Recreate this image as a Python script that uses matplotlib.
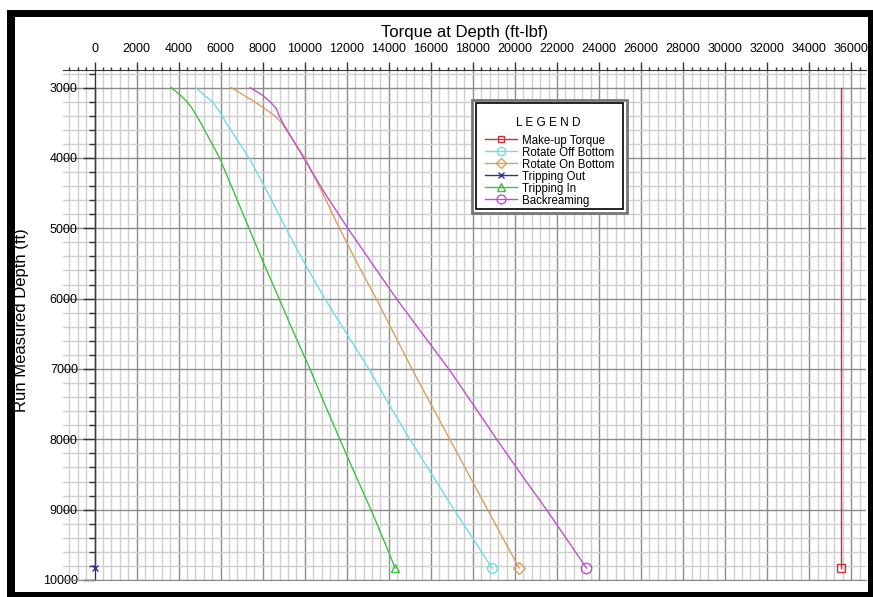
import matplotlib
matplotlib.use('Agg')
import matplotlib.pyplot as plt
from matplotlib.lines import Line2D
from matplotlib.patches import Rectangle
from matplotlib.ticker import MultipleLocator

plt.rcParams['font.family'] = ['Liberation Sans', 'DejaVu Sans']

# 데이터
depth = [3000, 3100, 3200, 3300, 3400, 3500, 3750, 4000, 4500, 5000, 5500,
         6000, 6500, 7000, 7500, 8000, 8500, 9000, 9500, 9830]

makeup_torque = [35500] * len(depth)
rotate_off_bottom = [4800, 5200, 5600, 5850, 6080, 6250, 6800, 7350, 8250, 9100, 10000,
                     10950, 12000, 13050, 14000, 15000, 16050, 17100, 18200, 18900]
rotate_on_bottom = [6500, 7050, 7600, 8100, 8570, 8900, 9450, 10000, 10850, 11650, 12500,
                    13400, 14250, 15100, 16000, 16900, 17800, 18700, 19600, 20200]
tripping_out = [0] * len(depth)
tripping_in = [3650, 4050, 4400, 4650, 4850, 5050, 5500, 5950, 6650, 7350, 8050,
               8780, 9500, 10250, 10950, 11670, 12400, 13150, 13850, 14300]
backreaming = [7400, 7950, 8350, 8650, 8780, 8950, 9450, 9950, 10950, 12050, 13200,
               14360, 15600, 16850, 18000, 19130, 20300, 21500, 22650, 23400]

series_names = ["Make-up Torque", "Rotate Off Bottom", "Rotate On Bottom",
                "Tripping Out", "Tripping In", "Backreaming"]
series_values = [makeup_torque, rotate_off_bottom, rotate_on_bottom,
                 tripping_out, tripping_in, backreaming]
colors = ["#c8303c", "#70dce6", "#d8a060", "#303090", "#40c040", "#c050d0"]
markers = ["s", "o", "D", "x", "^", "o"]
marker_sizes = [5.5, 7, 6, 5, 6, 7.5]

W, H = 873, 597
fig = plt.figure(figsize=(W / 100, H / 100), dpi=100)


def fig_rect(x0, y0, w, h, **kw):
    """픽셀 좌표(위-왼쪽 기준)로 그림 위에 사각형 추가"""
    fig.patches.append(Rectangle((x0 / W, 1 - (y0 + h) / H), w / W, h / H,
                                 transform=fig.transFigure, **kw))


# 플롯 영역 (픽셀 기준)
left, right, top, bottom = 63, 866, 70, 580
ax = fig.add_axes([left / W, 1 - bottom / H, (right - left) / W, (bottom - top) / H])

ax.set_xlim(-1500, 36700)
ax.set_ylim(10000, 2750)

# 그리드
ax.xaxis.set_major_locator(MultipleLocator(2000))
ax.xaxis.set_minor_locator(MultipleLocator(400))
ax.yaxis.set_major_locator(MultipleLocator(1000))
ax.yaxis.set_minor_locator(MultipleLocator(200))
ax.grid(True, which='minor', color='#cfcfcf', linewidth=1.0, zorder=0)
ax.grid(True, which='major', color='#8c8c8c', linewidth=1.0, zorder=0)
ax.set_axisbelow(True)

# 축 설정: x축 위쪽, y축은 x=0 위치
ax.xaxis.tick_top()
ax.spines['left'].set_position(('data', 0))
ax.spines['left'].set_color('#333333')
ax.spines['top'].set_color('#333333')
ax.spines['bottom'].set_color('#8c8c8c')
ax.spines['right'].set_visible(False)

ax.tick_params(axis='x', which='major', length=6, width=1, color='#333333',
               labelsize=9, pad=4.5)
ax.tick_params(axis='x', which='minor', length=2.5, width=1, color='#333333')
ax.tick_params(axis='y', which='major', length=9, width=1, color='#333333',
               labelsize=9, pad=3)
ax.tick_params(axis='y', which='minor', length=4, width=1, color='#333333')

# 축 제목은 그림 좌표로 직접 배치
fig.text(465 / W, 1 - 32 / H, "Torque at Depth (ft-lbf)", fontsize=12,
         ha='center', va='center')
fig.text(22 / W, 1 - 320 / H, "Run Measured Depth (ft)", fontsize=12,
         rotation=90, ha='center', va='center')

# 곡선 (마커는 끝점만)
for name, vals, c, m, ms in zip(series_names, series_values, colors, markers, marker_sizes):
    ax.plot(vals, depth, color=c, linewidth=1.0, marker=m, markersize=ms,
            markevery=[len(depth) - 1], markerfacecolor='none', markeredgecolor=c,
            markeredgewidth=1.0, zorder=3, clip_on=False)

# 범례: 이중 테두리 박스 + 제목 + 항목
fig_rect(472, 100, 155, 113, facecolor='white', edgecolor='#777777', linewidth=2.0, zorder=4)
fig_rect(476, 103, 147, 106, facecolor='white', edgecolor='black', linewidth=1.2, zorder=5)
fig.text(548 / W, 1 - 123 / H, "L E G E N D", fontsize=8.6, ha='center', va='center',
         zorder=6)

handles = [Line2D([0], [0], color=c, linewidth=1.0, marker=m, markersize=ms * 0.85,
                  markerfacecolor='none', markeredgecolor=c)
           for c, m, ms in zip(colors, markers, marker_sizes)]
leg = fig.legend(handles, series_names, loc='upper left',
                 bbox_to_anchor=(485 / W, 1 - 134.5 / H), bbox_transform=fig.transFigure,
                 fontsize=8.3, frameon=False, handlelength=2.8, handletextpad=0.45,
                 labelspacing=0.0, borderpad=0, numpoints=1, borderaxespad=0)
leg.set_zorder(7)

# 그림 외곽 검은 테두리
for x0, y0, w, h in [(7, 10, 866, 7), (7, 10, 8, 587), (7, 592, 866, 5), (868, 10, 5, 587)]:
    fig_rect(x0, y0, w, h, facecolor='black', edgecolor='none', zorder=10)

plt.savefig("out.png", dpi=100)
plt.close()
